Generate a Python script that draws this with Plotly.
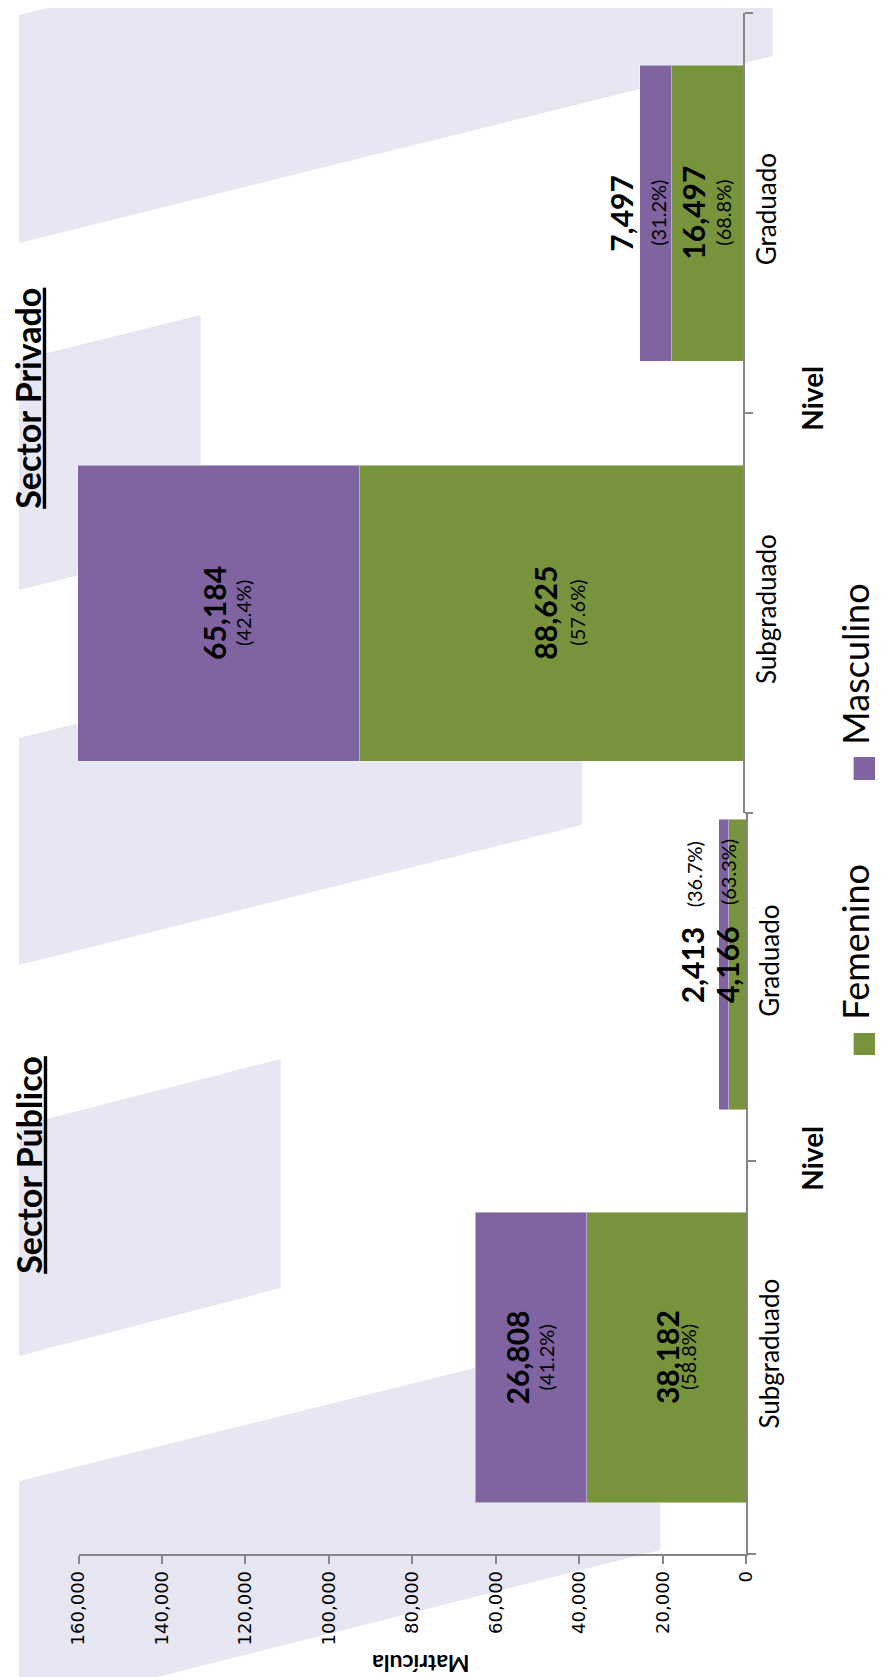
import plotly.graph_objects as go

# ---------------- data ----------------
niveles = ["Subgraduado", "Graduado"]
publico_femenino = [38182, 4166]
publico_masculino = [26808, 2413]
privado_femenino = [88625, 16497]
privado_masculino = [65184, 7497]
matricula_ticks = [0, 20000, 40000, 60000, 80000, 100000, 120000, 140000, 160000]

# ---------------- style ----------------
W, H = 883, 1677
GREEN = "#77933C"
PURPLE = "#8064A2"
LAV = "#E7E6F3"
AXIS = "#868686"
LATO = "Lato, Carlito, 'Open Sans', sans-serif"


def px(x):
    return x / W


def py(y):
    return 1 - y / H


fig = go.Figure()

sets = [
    ("x", "y", publico_femenino, publico_masculino),
    ("x2", "y2", privado_femenino, privado_masculino),
]
for xa, ya, fem, masc in sets:
    fig.add_trace(go.Bar(y=niveles, x=fem, orientation="h", name="Femenino",
                         marker=dict(color=GREEN, line=dict(color="rgba(255,255,255,0.45)", width=1)),
                         width=0.74, xaxis=xa, yaxis=ya, showlegend=False))
    fig.add_trace(go.Bar(y=niveles, x=masc, orientation="h", name="Masculino",
                         marker=dict(color=PURPLE, line=dict(color="rgba(255,255,255,0.45)", width=1)),
                         width=0.74, xaxis=xa, yaxis=ya, showlegend=False))

# data labels: (num_dx, num_dy, pct_dx, pct_dy) pixel offsets
label_offsets = {
    ("x", 0, "f"): (0, 0, 21, 0),
    ("x", 0, "m"): (-14, 0, 15, 0),
    ("x", 1, "f"): (-10, 0, -9, 92),
    ("x", 1, "m"): (-31, 0, -29, 90),
    ("x2", 0, "f"): (-7, 0, 25, 0),
    ("x2", 0, "m"): (-5, 0, 24, 0),
    ("x2", 1, "f"): (-15, 0, 15, 0),
    ("x2", 1, "m"): (-35, 0, 2, 0),
}
for xa, ya, fem, masc in sets:
    for i, nivel in enumerate(niveles):
        tot = fem[i] + masc[i]
        for key, val, base in (("f", fem[i], 0), ("m", masc[i], fem[i])):
            c = base + val / 2
            ndx, ndy, pdx, pdy = label_offsets[(xa, i, key)]
            fig.add_annotation(x=c, y=nivel, xref=xa, yref=ya, text=f"<b>{val:,}</b>",
                               textangle=-90, showarrow=False, xshift=ndx, yshift=ndy,
                               xanchor="center", yanchor="middle",
                               font=dict(family=LATO, size=30, color="black"))
            fig.add_annotation(x=c, y=nivel, xref=xa, yref=ya, text=f"({val / tot * 100:.1f}%)",
                               textangle=-90, showarrow=False, xshift=pdx, yshift=pdy,
                               xanchor="center", yanchor="middle",
                               font=dict(family=LATO, size=20, color="black"))


def paper_text(x, y, text, size, angle=-90):
    fig.add_annotation(x=px(x), y=py(y), xref="paper", yref="paper", text=text,
                       textangle=angle, showarrow=False, xanchor="center", yanchor="middle",
                       font=dict(family=LATO, size=size, color="black"))


# titles
paper_text(9, 1157, "<b><u>Sector Público</u></b>", 34)
paper_text(9, 390, "<b><u>Sector Privado</u></b>", 34)
paper_text(812, 1150, "<b>Nivel</b>", 28)
paper_text(812, 390, "<b>Nivel</b>", 28)
paper_text(412, 1656, "<b>Matrícula</b>", 23, angle=180)

# legend (drawn manually, rotated)
paper_text(856, 934, "Femenino", 36)
paper_text(856, 656, "Masculino", 36)

shapes = []
# background decorative bands
bands = [
    [(0, 7), (772, -180), (772, 48), (0, 235)],
    [(0, 352), (186, 307), (186, 537), (0, 582)],
    [(0, 730), (577, 590), (577, 817), (0, 957)],
    [(0, 1118), (268, 1051), (268, 1280), (0, 1348)],
    [(0, 1473), (657, 1314), (657, 1542), (0, 1704)],
]
for b in bands:
    path = "M " + " L ".join(f"{px(x):.5f},{py(y):.5f}" for x, y in b) + " Z"
    shapes.append(dict(type="path", path=path, xref="paper", yref="paper",
                       fillcolor=LAV, line=dict(width=0), layer="below"))
shapes.append(dict(type="rect", xref="paper", yref="paper", x0=px(855), x1=px(879), y0=py(1047), y1=py(1025),
                   fillcolor=GREEN, line=dict(width=0)))
shapes.append(dict(type="rect", xref="paper", yref="paper", x0=px(855), x1=px(879), y0=py(772), y1=py(749),
                   fillcolor=PURPLE, line=dict(width=0)))

cat_axis = dict(type="category", categoryorder="array", categoryarray=niveles, side="right",
                showline=True, linecolor=AXIS, linewidth=1.5, ticks="outside", tickson="boundaries",
                ticklen=8, tickcolor=AXIS, tickwidth=1.5, tickangle=-90,
                tickfont=dict(family=LATO, size=26, color="black"), showgrid=False, zeroline=False)

fig.update_layout(
    width=W, height=H,
    margin=dict(l=0, r=0, t=0, b=0),
    paper_bgcolor="white", plot_bgcolor="rgba(0,0,0,0)",
    barmode="stack", showlegend=False,
    xaxis=dict(domain=[px(61), px(745)], range=[160000, 0], anchor="y",
               showline=True, linecolor=AXIS, linewidth=1.5, ticks="outside", ticklen=8,
               tickcolor=AXIS, tickwidth=1.5, tickmode="array", tickvals=matricula_ticks,
               ticktext=[f"{t:,}" for t in matricula_ticks], tickangle=-90,
               tickfont=dict(family="DejaVu Sans", size=18, color="black"),
               showgrid=False, zeroline=False),
    yaxis=dict(domain=[py(1546), py(804)], range=[-0.5, 1.388], anchor="x", **cat_axis),
    xaxis2=dict(domain=[px(33), px(742)], range=[160000, 0], anchor="y2", visible=False),
    yaxis2=dict(domain=[py(805), py(5)], range=[-0.5, 1.5], anchor="x2", **cat_axis),
    shapes=shapes,
)

fig.write_html("out.html")
